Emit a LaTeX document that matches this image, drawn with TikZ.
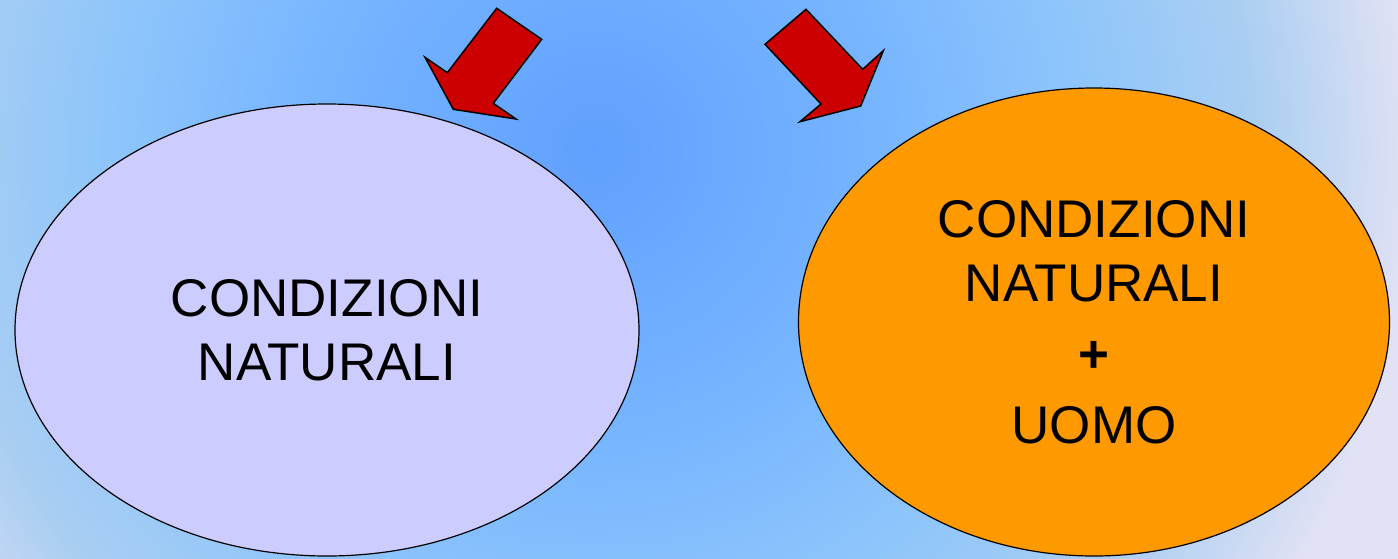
\documentclass[tikz,border=0pt]{standalone}
\usepackage{fontspec}
\setmainfont{Liberation Sans}
\usetikzlibrary{shapes.geometric}

\definecolor{glowA}{HTML}{60A0FF}
\definecolor{glowB}{HTML}{78B6FF}
\definecolor{glowC}{HTML}{90C6FA}
\definecolor{glowD}{HTML}{AACEF2}
\definecolor{glowE}{HTML}{E2E2F4}
\definecolor{lilla}{HTML}{CCCCFF}
\definecolor{arancio}{HTML}{FF9900}
\definecolor{rosso}{HTML}{CC0000}

\pgfdeclareradialshading{sfondo}{\pgfpoint{0bp}{0bp}}{%
  color(0bp)=(glowA); color(7.5bp)=(glowB); color(12.5bp)=(glowC);
  color(16.5bp)=(glowD); color(20.5bp)=(glowE); color(50bp)=(glowE)}

\tikzset{
  bolla/.style={ellipse, draw=black, line width=1.2pt, inner sep=0pt,
    align=center, font=\fontsize{53}{64}\selectfont},
  freccia/.style={fill=rosso, draw=black, line width=1.5pt, line join=miter}
}

\begin{document}
\begin{tikzpicture}[x=1pt, y=-1pt]
        \useasboundingbox (0,0) rectangle (1398,558);
        \begin{scope}
            \clip (0,0) rectangle (1398,558);
            \shade[shading=sfondo] (595,150) circle (1000pt);
        \end{scope}

        \node[bolla, fill=lilla, minimum width=624pt, minimum height=452pt] (sx) at (327,330) {CONDIZIONI\\NATURALI};
        \node[bolla, fill=arancio, minimum width=591pt, minimum height=468pt] (dx) at (1094,322) {CONDIZIONI\\NATURALI\\[7pt]\textbf{+}\\[7pt]UOMO};

        \draw[freccia] (496.7,8.3) -- (541.7,39.3) -- (493.3,103.3) -- (516,119)
            -- (453.3,109.3) -- (425,57.3) -- (447.3,72.7) -- cycle;
        \draw[freccia] (806,9.3) -- (765,44.3) -- (821,104) -- (800,121.7)
            -- (860.7,106) -- (883.3,50.7) -- (862.7,69.3) -- cycle;

\end{tikzpicture}
\end{document}
